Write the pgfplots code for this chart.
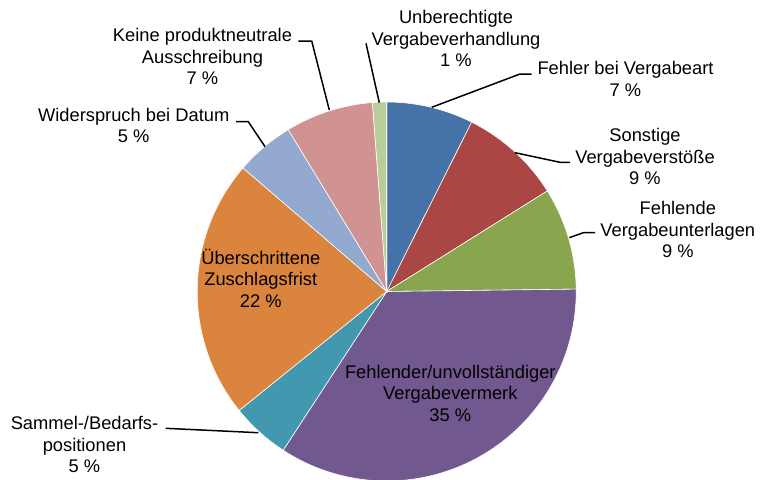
\documentclass[border=0pt]{standalone}
\usepackage{pgfplots}
\pgfplotsset{compat=1.18}
\usepackage{fontspec}
\setmainfont{Liberation Sans}
\definecolor{cA}{HTML}{4572A7}
\definecolor{cB}{HTML}{AA4643}
\definecolor{cC}{HTML}{89A54E}
\definecolor{cD}{HTML}{71588F}
\definecolor{cE}{HTML}{4198AF}
\definecolor{cF}{HTML}{DB843D}
\definecolor{cG}{HTML}{93A9CF}
\definecolor{cH}{HTML}{D19392}
\definecolor{cI}{HTML}{B9CD96}
\tikzset{lbl/.style={font=\fontsize{9.15pt}{10.75pt}\selectfont, align=center, text=black, inner sep=0pt}}
\begin{document}
\begin{tikzpicture}
\begin{axis}[
  x=0.5pt, y=0.5pt,
  xmin=0, xmax=760, ymin=0, ymax=479,
  hide axis, clip mode=individual,
]
% slices: cumulative percentages (start:end), clockwise from 12 o'clock
\addplot[fill=cA, draw=white, line width=0.3pt, domain=0:7.4, samples=30, variable=\t] ({386.7+189.5*cos(90-3.6*t)},{187.5+189.5*sin(90-3.6*t)}) -- (axis cs:386.7,187.5) -- cycle;
\addplot[fill=cB, draw=white, line width=0.3pt, domain=7.4:16.1, samples=30, variable=\t] ({386.7+189.5*cos(90-3.6*t)},{187.5+189.5*sin(90-3.6*t)}) -- (axis cs:386.7,187.5) -- cycle;
\addplot[fill=cC, draw=white, line width=0.3pt, domain=16.1:24.8, samples=30, variable=\t] ({386.7+189.5*cos(90-3.6*t)},{187.5+189.5*sin(90-3.6*t)}) -- (axis cs:386.7,187.5) -- cycle;
\addplot[fill=cD, draw=white, line width=0.3pt, domain=24.8:59.2, samples=80, variable=\t] ({386.7+189.5*cos(90-3.6*t)},{187.5+189.5*sin(90-3.6*t)}) -- (axis cs:386.7,187.5) -- cycle;
\addplot[fill=cE, draw=white, line width=0.3pt, domain=59.2:64.2, samples=20, variable=\t] ({386.7+189.5*cos(90-3.6*t)},{187.5+189.5*sin(90-3.6*t)}) -- (axis cs:386.7,187.5) -- cycle;
\addplot[fill=cF, draw=white, line width=0.3pt, domain=64.2:86.3, samples=60, variable=\t] ({386.7+189.5*cos(90-3.6*t)},{187.5+189.5*sin(90-3.6*t)}) -- (axis cs:386.7,187.5) -- cycle;
\addplot[fill=cG, draw=white, line width=0.3pt, domain=86.3:91.3, samples=20, variable=\t] ({386.7+189.5*cos(90-3.6*t)},{187.5+189.5*sin(90-3.6*t)}) -- (axis cs:386.7,187.5) -- cycle;
\addplot[fill=cH, draw=white, line width=0.3pt, domain=91.3:98.8, samples=30, variable=\t] ({386.7+189.5*cos(90-3.6*t)},{187.5+189.5*sin(90-3.6*t)}) -- (axis cs:386.7,187.5) -- cycle;
\addplot[fill=cI, draw=white, line width=0.3pt, domain=98.8:100, samples=10, variable=\t] ({386.7+189.5*cos(90-3.6*t)},{187.5+189.5*sin(90-3.6*t)}) -- (axis cs:386.7,187.5) -- cycle;
% leader lines
\addplot[black, line width=0.75pt] coordinates {(366,435.7) (379.3,376.3)};
\addplot[black, line width=0.75pt] coordinates {(298.3,438) (311.7,438) (329.3,369)};
\addplot[black, line width=0.75pt] coordinates {(431.7,371.7) (520,405) (531.7,405)};
\addplot[black, line width=0.75pt] coordinates {(515,326.3) (560,316.7) (570,316.7)};
\addplot[black, line width=0.75pt] coordinates {(569.3,241.3) (583.3,246.3) (595,246.3)};
\addplot[black, line width=0.75pt] coordinates {(236,357.3) (248.3,357.3) (265,332.3)};
\addplot[black, line width=0.75pt] coordinates {(165.7,50.7) (258.3,46.3)};
% labels
\node[lbl] at (axis cs:456,440.3) {Unberechtigte\\Vergabeverhandlung\\1 \%};
\node[lbl] at (axis cs:625.5,400) {Fehler bei Vergabeart\\7 \%};
\node[lbl] at (axis cs:645,322.3) {Sonstige\\Vergabeverstöße\\9 \%};
\node[lbl] at (axis cs:677.8,249.5) {Fehlende\\Vergabeunterlagen\\9 \%};
\node[lbl] at (axis cs:450.3,85.7) {Fehlender/unvollständiger\\Vergabevermerk\\35 \%};
\node[lbl] at (axis cs:260.8,200.7) {Überschrittene\\Zuschlagsfrist\\22 \%};
\node[lbl] at (axis cs:84.5,34.5) {Sammel-/Bedarfs-\\positionen\\5 \%};
\node[lbl] at (axis cs:133.7,353.5) {Widerspruch bei Datum\\5 \%};
\node[lbl] at (axis cs:202.5,422.3) {Keine produktneutrale\\Ausschreibung\\7 \%};
\path (axis cs:0,0) rectangle (axis cs:760,479);
\end{axis}
\end{tikzpicture}
\end{document}
